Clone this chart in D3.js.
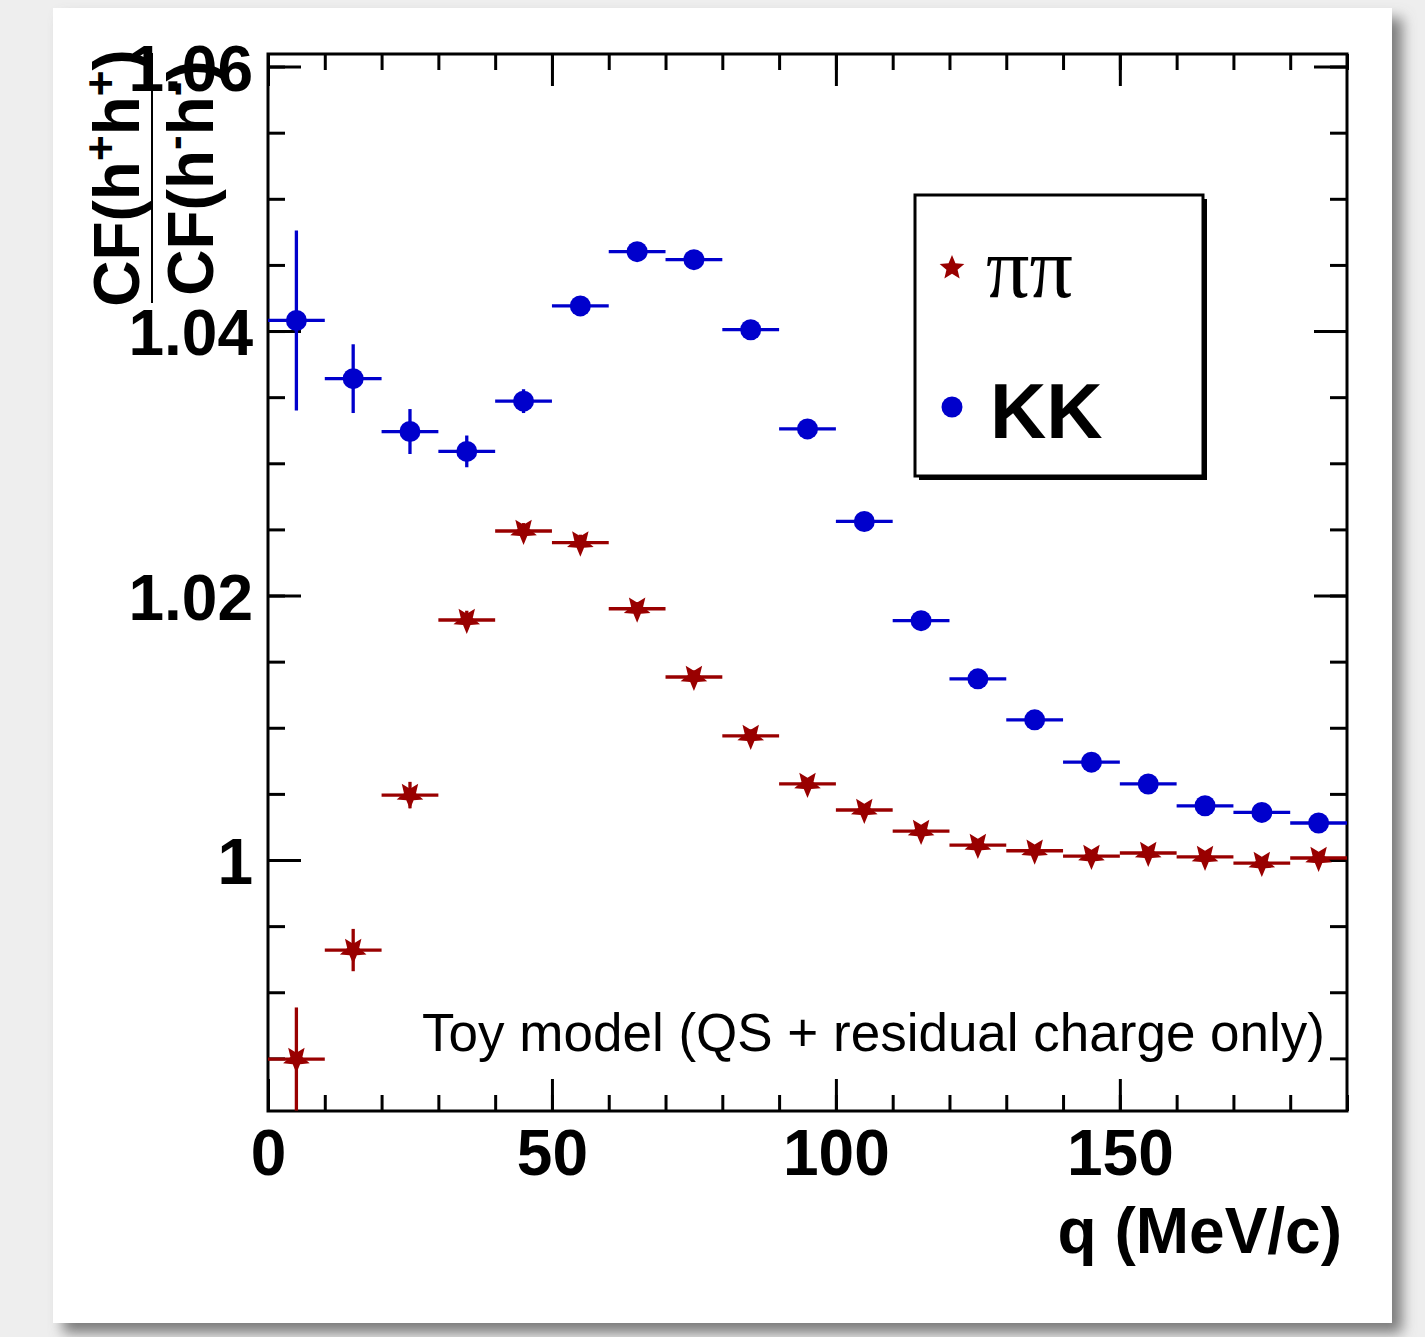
<!DOCTYPE html>
<html><head><meta charset="utf-8">
<script src="https://cdn.jsdelivr.net/npm/d3@7"></script>
<style>body{margin:0;background:#eeeeee;} svg{display:block}</style>
</head><body><svg id="c" width="1425" height="1337"></svg>
<script>
// ---------- data ----------
const qBins = [5,15,25,35,45,55,65,75,85,95,105,115,125,135,145,155,165,175,185];
const binHalfWidth = 5;
const kkValues = [1.0408,1.0364,1.0324,1.0309,1.0347,1.0419,1.0460,1.0454,1.0401,1.0326,1.0256,1.0181,1.0137,1.0106,1.0074,1.00575,1.0041,1.0036,1.0028];
const kkErrors = [0.0068,0.0026,0.0017,0.0012,0.0009,0.0007,0.0005,0.0005,0.0004,0.0004,0.0004,0.0003,0.0003,0.0003,0.0003,0.0003,0.0003,0.0003,0.0003];
const pipiValues = [0.98495,0.99319,1.00491,1.01815,1.02488,1.0240,1.0190,1.01384,1.00938,1.00575,1.00378,1.00219,1.00113,1.00070,1.0003,1.00053,1.00023,0.99977,1.00015];
const pipiErrors = [0.0039,0.0016,0.0010,0.0007,0.0006,0.0006,0.0005,0.0005,0.0005,0.0004,0.0004,0.0004,0.0004,0.0004,0.0004,0.0004,0.0004,0.0004,0.0004];
const xMajorTicks = [0,50,100,150];
const xTickLabels = ["0","50","100","150"];
const yMajorTicks = [1,1.02,1.04,1.06];
const yTickLabels = ["1","1.02","1.04","1.06"];
const xDomain = [0,190];
const yDomain = [0.98102,1.06095];

// ---------- layout ----------
const L=268,R=1347,T=54,B=1111;
const red="rgb(153,0,0)", blue="rgb(0,0,204)";
const sansBold = "'Liberation Sans', Arial, Helvetica, sans-serif";

const svg=d3.select("#c");
const defs=svg.append("defs");
const f=defs.append("filter").attr("id","sh").attr("x","-5%").attr("y","-5%").attr("width","115%").attr("height","115%");
f.append("feDropShadow").attr("dx",10).attr("dy",10).attr("stdDeviation",7).attr("flood-color","#7a7a7a").attr("flood-opacity",1);
defs.append("clipPath").attr("id","clip").append("rect").attr("x",L).attr("y",T).attr("width",R-L+3).attr("height",B-T);

svg.append("rect").attr("width",1425).attr("height",1337).attr("fill","#eeeeee");
svg.append("rect").attr("x",53).attr("y",8).attr("width",1339).attr("height",1315).attr("fill","#fff").attr("filter","url(#sh)");

const x=d3.scaleLinear().domain(xDomain).range([L,R]);
const y=d3.scaleLinear().domain(yDomain).range([B,T]);

function styleAxis(g){
  g.select(".domain").remove();
  g.selectAll("line").attr("stroke","#000").attr("stroke-width",3);
  g.attr("font-family",sansBold).attr("font-weight","bold").attr("font-size",64);
  g.selectAll("text").attr("fill","#000");
}
const xMinor=d3.range(0,191,10);
const yMinor=d3.range(197,213).map(k=>+(k*0.005).toFixed(3));

// bottom
svg.append("g").attr("transform",`translate(0,${B})`).call(d3.axisBottom(x).tickValues(xMinor).tickSize(-16).tickFormat("")).call(styleAxis);
svg.append("g").attr("transform",`translate(0,${B})`).call(d3.axisBottom(x).tickValues(xMajorTicks).tickSize(-32).tickPadding(19).tickFormat((d,i)=>xTickLabels[i])).call(styleAxis);
// top
svg.append("g").attr("transform",`translate(0,${T})`).call(d3.axisTop(x).tickValues(xMinor).tickSize(-16).tickFormat("")).call(styleAxis);
svg.append("g").attr("transform",`translate(0,${T})`).call(d3.axisTop(x).tickValues(xMajorTicks).tickSize(-32).tickFormat("")).call(styleAxis);
// left
svg.append("g").attr("transform",`translate(${L},0)`).call(d3.axisLeft(y).tickValues(yMinor).tickSize(-17).tickFormat("")).call(styleAxis);
const yl=svg.append("g").attr("transform",`translate(${L},0)`).call(d3.axisLeft(y).tickValues(yMajorTicks).tickSize(-33).tickPadding(15).tickFormat((d,i)=>yTickLabels[i])).call(styleAxis);
yl.selectAll("text").attr("dy","0.37em");
// right
svg.append("g").attr("transform",`translate(${R},0)`).call(d3.axisRight(y).tickValues(yMinor).tickSize(-17).tickFormat("")).call(styleAxis);
svg.append("g").attr("transform",`translate(${R},0)`).call(d3.axisRight(y).tickValues(yMajorTicks).tickSize(-33).tickFormat("")).call(styleAxis);

// frame
svg.append("rect").attr("x",L).attr("y",T).attr("width",R-L).attr("height",B-T).attr("fill","none").attr("stroke","#000").attr("stroke-width",3);

// star path
function starPath(cx,cy,Ro,inverted){
  const ri=Ro*0.45, pts=[];
  for(let i=0;i<10;i++){
    const a=(inverted?90:-90)+i*36, r=i%2?ri:Ro;
    pts.push([cx+r*Math.cos(a*Math.PI/180), cy+r*Math.sin(a*Math.PI/180)]);
  }
  return "M"+pts.map(p=>p.join(",")).join("L")+"Z";
}

const data = qBins.map((q,i)=>({q,kk:kkValues[i],kke:kkErrors[i],pp:pipiValues[i],ppe:pipiErrors[i]}));
const plot=svg.append("g").attr("clip-path","url(#clip)");

function drawSeries(vKey,eKey,color,marker){
  const g=plot.append("g");
  g.selectAll("line.h").data(data).join("line").attr("class","h")
    .attr("x1",d=>x(d.q-binHalfWidth)).attr("x2",d=>x(d.q+binHalfWidth))
    .attr("y1",d=>y(d[vKey])).attr("y2",d=>y(d[vKey])).attr("stroke",color).attr("stroke-width",3.3);
  g.selectAll("line.v").data(data).join("line").attr("class","v")
    .attr("x1",d=>x(d.q)).attr("x2",d=>x(d.q))
    .attr("y1",d=>y(d[vKey]-d[eKey])).attr("y2",d=>y(d[vKey]+d[eKey])).attr("stroke",color).attr("stroke-width",3.3);
  if(marker==="circle"){
    g.selectAll("circle").data(data).join("circle").attr("cx",d=>x(d.q)).attr("cy",d=>y(d[vKey])).attr("r",10.5).attr("fill",color);
  } else {
    g.selectAll("path").data(data).join("path").attr("d",d=>starPath(x(d.q),y(d[vKey]),14,true)).attr("fill",color);
  }
}
drawSeries("pp","ppe",red,"star");
drawSeries("kk","kke",blue,"circle");

// legend
svg.append("rect").attr("x",919).attr("y",199).attr("width",288).attr("height",281).attr("fill","#000");
svg.append("rect").attr("x",915).attr("y",195).attr("width",288).attr("height",281).attr("fill","#fff").attr("stroke","#000").attr("stroke-width",3);
svg.append("path").attr("d",starPath(952,268,13,false)).attr("fill",red);
svg.append("text").attr("x",986).attr("y",297).attr("font-family","'Liberation Serif','Times New Roman',serif").attr("font-size",86).text("ππ");
svg.append("circle").attr("cx",952).attr("cy",407).attr("r",10.5).attr("fill",blue);
svg.append("text").attr("x",990).attr("y",438).attr("font-family",sansBold).attr("font-weight","bold").attr("font-size",78).text("KK");

// annotation
svg.append("text").attr("x",1325).attr("y",1051).attr("text-anchor","end").attr("font-family","'Liberation Sans', Arial, sans-serif").attr("font-size",53).text("Toy model (QS + residual charge only)");

// x title
svg.append("text").attr("x",1342).attr("y",1253).attr("text-anchor","end").attr("font-family",sansBold).attr("font-weight","bold").attr("font-size",64).text("q (MeV/c)");

// y title (fraction)
const yt=svg.append("g").attr("transform","translate(152,178) rotate(-90)")
  .attr("font-family",sansBold).attr("font-weight","bold").attr("font-size",64);
const num=yt.append("text").attr("x",0).attr("y",-13).attr("text-anchor","middle");
num.append("tspan").text("CF(h");
num.append("tspan").attr("dy",-23).attr("font-size",44).text("+");
num.append("tspan").attr("dy",23).text("h");
num.append("tspan").attr("dy",-23).attr("font-size",44).text("+");
num.append("tspan").attr("dy",23).text(")");
const den=yt.append("text").attr("x",0).attr("y",61).attr("text-anchor","middle");
den.append("tspan").text("CF(h");
den.append("tspan").attr("dy",-23).attr("font-size",44).text("-");
den.append("tspan").attr("dy",23).text("h");
den.append("tspan").attr("dy",-23).attr("font-size",44).text("-");
den.append("tspan").attr("dy",23).text(")");
yt.append("line").attr("x1",-125).attr("x2",125).attr("y1",0).attr("y2",0).attr("stroke","#000").attr("stroke-width",2);
</script></body></html>
